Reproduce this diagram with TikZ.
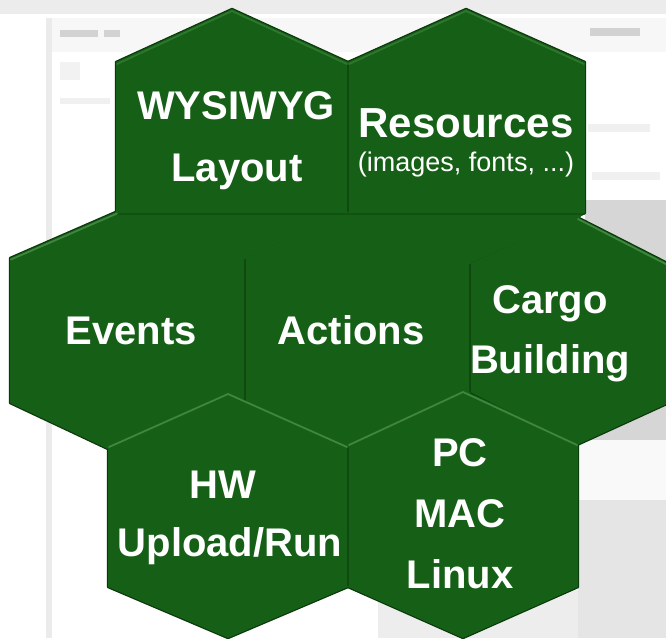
\documentclass[tikz,border=0pt]{standalone}
\usepackage{fontspec}
\setmainfont{Liberation Sans}
\definecolor{hexgreen}{RGB}{22,95,22}
\definecolor{hexdark}{RGB}{10,56,10}
\definecolor{hexlite}{RGB}{64,134,64}
\definecolor{chrome}{RGB}{236,236,236}
\definecolor{panel}{RGB}{214,214,214}
\definecolor{ghost}{RGB}{210,210,210}
\tikzset{
  hexrim/.style={draw=hexdark, line width=2.4pt, line join=round},
  hexfill/.style={fill=hexgreen},
  seam/.style={draw=hexdark, line width=1.4pt, opacity=0.55},
  bevel/.style={draw=hexlite, line width=1.8pt, line join=round, line cap=round},
  biglabel/.style={text=white, anchor=base, inner sep=0pt,
    font=\bfseries\fontsize{40}{40}\selectfont},
  smalllabel/.style={text=white, anchor=base, inner sep=0pt,
    font=\fontsize{27}{27}\selectfont},
}
% cells: centre x / left x / right x / top apex y / upper corner y / lower corner y / bottom apex y
\def\cells{232/116/348/9/62/212/264, 466/348/585/9/62/213/265,
  127/10/245/207/258/403/458, 358/245/470/207/258/403/458,
  577/470/693/217/276/392/445,
  228/108/348/392/445/587/638, 463/348/578/390/443/587/638}
\begin{document}
\begin{tikzpicture}[x=1pt,y=-1pt]
\useasboundingbox (0,0) rectangle (666,638);
% faded application window in the background
\fill[white] (0,0) rectangle (666,638);
\fill[chrome] (0,0) rectangle (666,14);
\fill[gray!6] (48,18) rectangle (666,52);
\fill[gray!16] (46,18) rectangle (52,638);
\fill[ghost] (60,30) rectangle (98,37);
\fill[ghost] (104,30) rectangle (120,37);
\fill[ghost] (590,28) rectangle (640,36);
\fill[gray!10] (60,62) rectangle (80,80);
\fill[gray!12] (60,98) rectangle (110,104);
\fill[gray!12] (588,124) rectangle (650,132);
\fill[gray!12] (592,172) rectangle (660,180);
\fill[panel] (585,200) rectangle (666,440);
\fill[gray!5] (578,440) rectangle (666,500);
\fill[gray!20] (578,500) rectangle (666,638);
\fill[gray!14] (378,590) rectangle (578,638);
% honeycomb: rims first, then the fills, so only the outer contour stays dark
\foreach \c/\l/\r/\a/\u/\d/\b in \cells {
  \draw[hexrim] (\c,\a) -- (\r,\u) -- (\r,\d) -- (\c,\b) -- (\l,\d) -- (\l,\u) -- cycle;
}
\foreach \c/\l/\r/\a/\u/\d/\b in \cells {
  \fill[hexfill] (\c,\a) -- (\r,\u) -- (\r,\d) -- (\c,\b) -- (\l,\d) -- (\l,\u) -- cycle;
}
% closes the notch between Resources, Actions and Cargo
\fill[hexfill] (464,266) -- (586,212) -- (578,219) -- (470,279) -- cycle;
% seams between neighbouring cells
\draw[seam] (348,64) -- (348,212);
\draw[seam, opacity=0.35] (117,214) -- (585,214);
\draw[seam] (245,259) -- (245,402);
\draw[seam, line width=2pt] (470,264) -- (470,392);
\draw[seam] (348,447) -- (348,586);
% lit upper edges
\draw[bevel, opacity=0.6] (117,64) -- (232,11) -- (347,64);
\draw[bevel, opacity=0.6] (349,64) -- (466,11) -- (584,64);
\draw[bevel] (11,259.5) -- (117,213.5);
\draw[bevel] (578,219) -- (693,278);
\draw[bevel] (109,447) -- (228,394) -- (347,447);
\draw[bevel] (349,445) -- (463,392) -- (577,445);
% labels
\node[biglabel] (wys1) at (236,119) {WYSIWYG};
\node[biglabel] (wys2) at (237,181) {Layout};
\node[biglabel, font=\bfseries\fontsize{42}{42}\selectfont] (res1) at (466,137) {Resources};
\node[smalllabel] (res2) at (466,171) {(images, fonts, ...)};
\node[biglabel] (evt) at (131,344) {Events};
\node[biglabel] (act) at (351,344) {Actions};
\node[biglabel] (cargo1) at (550,313) {Cargo};
\node[biglabel] (cargo2) at (550,373) {Building};
\node[biglabel] (hw1) at (223,498) {HW};
\node[biglabel] (hw2) at (230,556) {Upload/Run};
\node[biglabel] (os1) at (460,466) {PC};
\node[biglabel] (os2) at (460,527) {MAC};
\node[biglabel] (os3) at (460,588) {Linux};
\end{tikzpicture}
\end{document}
